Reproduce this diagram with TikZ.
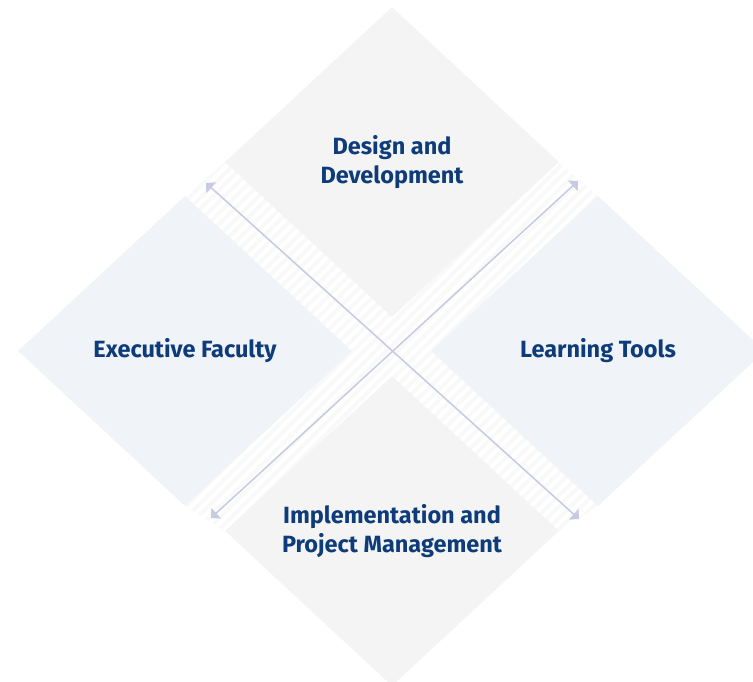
\documentclass[tikz,border=0pt]{standalone}
\usepackage{fontspec}
\setmainfont{Fira Sans}
\usetikzlibrary{shapes.geometric,arrows.meta,patterns.meta}
\definecolor{greybox}{RGB}{244,244,244}
\definecolor{bluebox}{RGB}{240,243,247}
\definecolor{arrowblue}{RGB}{198,202,226}
\definecolor{textblue}{RGB}{14,60,122}
\definecolor{stripe}{RGB}{249,249,249}
\begin{document}
\begin{tikzpicture}[x=1pt, y=-1pt]
		% Estilos
		\tikzstyle{quad} = [diamond, inner sep=0pt, minimum width=334pt, minimum height=310pt,
			text=textblue, font=\bfseries\fontsize{23.5}{29}\selectfont, align=center]
		\tikzstyle{line} = [draw=arrowblue, line width=1.5pt,
			{Triangle[angle=90:10pt]}-{Triangle[angle=90:10pt]}]

		\useasboundingbox (0,0) rectangle (753,681);
		\clip (0,0) rectangle (753,681);

		% Franjas
		\path [pattern={Lines[angle=45, distance=8pt, line width=4pt]}, pattern color=stripe]
			(225,162) -- (185,196) -- (185,506) -- (225,531) -- (559,531)
			-- (598,506) -- (598,196) -- (559,162) -- cycle;

		% Nodos
		\node [quad, fill=greybox] (design) at (392,162) {Design and\\Development};
		\node [quad, fill=bluebox] (faculty) at (185,351) {Executive Faculty};
		\node [quad, fill=bluebox] (tools) at (598,351) {Learning Tools};
		\node [quad, fill=greybox] (implem) at (392,531) {Implementation and\\Project Management};

		% Flechas
		\coordinate (nw) at (206,183);
		\coordinate (se) at (579,519);
		\coordinate (ne) at (578,181);
		\coordinate (sw) at (211,518);
		\path [line] (nw) -- (se);
		\path [line] (ne) -- (sw);
	\end{tikzpicture}
\end{document}
